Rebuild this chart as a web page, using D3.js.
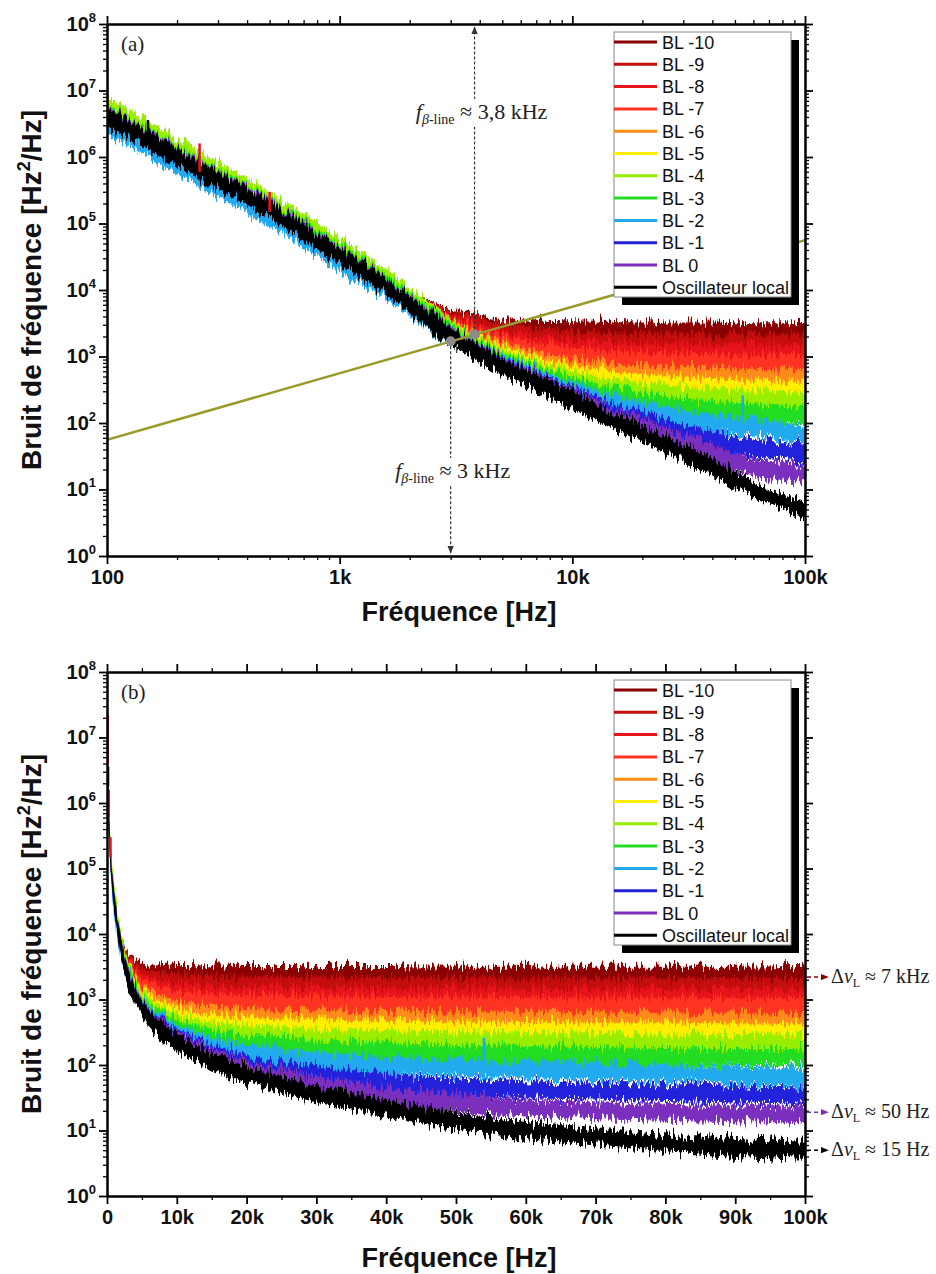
<!DOCTYPE html>
<html>
<head>
<meta charset="utf-8">
<script src="https://cdn.jsdelivr.net/npm/d3@7"></script>
<style>
  body { margin: 0; background: #fff; }
  svg text { font-family: Arial, "Liberation Sans", sans-serif; }
  .tick text { font-weight: bold; font-size: 20px; fill: #111; }
  .serif { font-family: "Liberation Serif", "DejaVu Serif", serif; }
</style>
</head>
<body>
<svg id="chart" width="936" height="1274"></svg>
<script>
const freqs = [100, 150, 200, 300, 500, 700, 1e3, 1.5e3, 2e3, 3e3, 5e3, 7e3, 1e4, 1.5e4, 2e4, 3e4, 4e4, 5e4, 6e4, 7e4, 8e4, 9e4, 1e5];

const seriesNames = ["BL -10", "BL -9", "BL -8", "BL -7", "BL -6", "BL -5", "BL -4", "BL -3", "BL -2", "BL -1", "BL 0", "Oscillateur local"];
const seriesColors = ["#8b0000", "#c40d0d", "#e8141c", "#ff3322", "#ff8c1a", "#ffee00", "#99ee00", "#22dd22", "#22aaee", "#2222dd", "#7b2fbf", "#000000"];

// frequency noise PSD [Hz^2/Hz]
const bl10 = [3.4e6, 1.5e6, 8.5e5, 3.9e5, 1.45e5, 6.8e4, 3e4, 1.35e4, 7e3, 3.6e3, 2.7e3, 2.55e3, 2.5e3, 2.45e3, 2.4e3, 2.4e3, 2.4e3, 2.35e3, 2.35e3, 2.35e3, 2.35e3, 2.35e3, 2.4e3];
const bl9  = [3.6e6, 1.6e6, 9e5, 4.1e5, 1.5e5, 7e4, 3.1e4, 1.35e4, 7e3, 3.4e3, 2.3e3, 2e3, 1.8e3, 1.7e3, 1.65e3, 1.62e3, 1.6e3, 1.6e3, 1.6e3, 1.6e3, 1.58e3, 1.58e3, 1.56e3];
const bl8  = [3.8e6, 1.7e6, 9.5e5, 4.3e5, 1.55e5, 7.3e4, 3.2e4, 1.35e4, 6.8e3, 3e3, 1.8e3, 1.5e3, 1.3e3, 1.2e3, 1.15e3, 1.12e3, 1.1e3, 1.1e3, 1.1e3, 1.1e3, 1.08e3, 1.08e3, 1.06e3];
const bl7  = [4.4e6, 2e6, 1.1e6, 4.9e5, 1.75e5, 8.2e4, 3.5e4, 1.45e4, 7e3, 2.8e3, 1.5e3, 1.2e3, 1e3, 9e2, 8.6e2, 8.3e2, 8.1e2, 8e2, 8e2, 7.9e2, 7.9e2, 7.8e2, 7.8e2];
const bl6  = [4.8e6, 2.2e6, 1.2e6, 5.3e5, 1.9e5, 8.8e4, 3.7e4, 1.5e4, 7e3, 2.6e3, 1.2e3, 9e2, 7e2, 6e2, 5.5e2, 5.2e2, 5e2, 4.9e2, 4.8e2, 4.8e2, 4.7e2, 4.7e2, 4.6e2];
const bl5  = [5.5e6, 2.5e6, 1.35e6, 6e5, 2.1e5, 1e5, 4.2e4, 1.7e4, 7.6e3, 2.6e3, 1.05e3, 7.4e2, 5.5e2, 4.4e2, 4e2, 3.7e2, 3.5e2, 3.4e2, 3.35e2, 3.3e2, 3.3e2, 3.2e2, 3.2e2];
const bl4  = [5.8e6, 2.6e6, 1.4e6, 6.3e5, 2.2e5, 1.05e5, 4.4e4, 1.8e4, 8e3, 2.6e3, 9.5e2, 6.4e2, 4.5e2, 3.4e2, 3e2, 2.65e2, 2.5e2, 2.4e2, 2.35e2, 2.3e2, 2.25e2, 2.2e2, 2.2e2];
const bl3  = [4.5e6, 2e6, 1.1e6, 5e5, 1.8e5, 8.5e4, 3.6e4, 1.5e4, 6.8e3, 2.3e3, 8.5e2, 5.5e2, 3.6e2, 2.6e2, 2.1e2, 1.75e2, 1.6e2, 1.5e2, 1.45e2, 1.4e2, 1.35e2, 1.3e2, 1.3e2];
const bl2  = [3e6, 1.4e6, 7.5e5, 3.4e5, 1.2e5, 5.8e4, 2.5e4, 1.1e4, 5.3e3, 2e3, 7.8e2, 4.8e2, 3e2, 1.9e2, 1.5e2, 1.15e2, 1e2, 9e1, 8.5e1, 8e1, 7.5e1, 7e1, 6.5e1];
const bl1  = [4e6, 1.8e6, 1e6, 4.5e5, 1.6e5, 7.5e4, 3.2e4, 1.35e4, 6.2e3, 2.1e3, 7.5e2, 4.4e2, 2.6e2, 1.5e2, 1.05e2, 7e1, 5.5e1, 4.6e1, 4.2e1, 4e1, 3.8e1, 3.6e1, 3.5e1];
const bl0  = [4.2e6, 1.9e6, 1.05e6, 4.7e5, 1.7e5, 7.8e4, 3.3e4, 1.35e4, 6.2e3, 2.1e3, 7.3e2, 4.2e2, 2.4e2, 1.3e2, 8.5e1, 5e1, 3.4e1, 2.6e1, 2.2e1, 2e1, 1.9e1, 1.8e1, 1.8e1];
const lo   = [4e6, 1.8e6, 1e6, 4.5e5, 1.6e5, 7.5e4, 3.2e4, 1.3e4, 6e3, 2e3, 7e2, 4e2, 2.2e2, 1.1e2, 7e1, 3.6e1, 2.2e1, 1.4e1, 1e1, 8, 6.5, 5.5, 5];

// the spectra are noisy: band drawn between value/spread and value*spread
const noiseSpread = 1.35;

// beta-separation line (end points)
const betaFreq = [100, 1e5];
const betaVal = [56, 5.6e4];

// narrow peaks
const spikeFreq = [100, 150, 250, 500, 54000];
const spikeLow = [4e6, 1.8e6, 6e5, 1.5e5, 6e1];
const spikeHigh = [2.2e7, 3.6e6, 1.6e6, 3e5, 2.6e2];
const spikeSeries = ["BL -8", "Oscillateur local", "BL -8", "BL -8", "BL -2"];

// annotations
const crossFreq = [3000, 3800];
const crossVal = [1.7e3, 2.15e3];
const crossLabels = ["3 kHz", "3,8 kHz"];
const lwLevels = [2200, 19, 5];
const lwLabels = ["7 kHz", "50 Hz", "15 Hz"];
const lwSeries = ["BL -10", "BL 0", "Oscillateur local"];

const xTicksLog = [100, 1e3, 1e4, 1e5];
const xTickLabelsLog = ["100", "1k", "10k", "100k"];
const xTicksLin = [0, 1e4, 2e4, 3e4, 4e4, 5e4, 6e4, 7e4, 8e4, 9e4, 1e5];
const xTickLabelsLin = ["0", "10k", "20k", "30k", "40k", "50k", "60k", "70k", "80k", "90k", "100k"];
const yTicks = [1, 1e1, 1e2, 1e3, 1e4, 1e5, 1e6, 1e7, 1e8];

const allValues = [bl10, bl9, bl8, bl7, bl6, bl5, bl4, bl3, bl2, bl1, bl0, lo];
const series = seriesNames.map((name, i) => ({ name: name, color: seriesColors[i], values: allValues[i] }));
const colorOf = name => seriesColors[seriesNames.indexOf(name)];

const W = 936, H = 1274;
const svg = d3.select("#chart");
const defs = svg.append("defs");

// jagged look of the noisy spectra (vertical displacement only)
const filt = defs.append("filter").attr("id", "jag")
    .attr("filterUnits", "userSpaceOnUse")
    .attr("x", 0).attr("y", 0).attr("width", W).attr("height", H)
    .attr("color-interpolation-filters", "sRGB");
filt.append("feTurbulence").attr("type", "fractalNoise")
    .attr("baseFrequency", "0.45 0.04").attr("numOctaves", 2).attr("seed", 3).attr("result", "noise");
filt.append("feColorMatrix").attr("in", "noise").attr("type", "matrix")
    .attr("values", "0 0 0 0 0.5  0 1 0 0 0  0 0 1 0 0  0 0 0 0 1").attr("result", "dy");
filt.append("feDisplacementMap").attr("in", "SourceGraphic").attr("in2", "dy")
    .attr("scale", 22).attr("xChannelSelector", "R").attr("yChannelSelector", "G");

// arrow heads
function arrowId(color) {
    const id = "arr" + color.replace("#", "");
    if (defs.select("#" + id).empty()) {
        defs.append("marker").attr("id", id)
            .attr("viewBox", "0 0 10 10").attr("refX", 9).attr("refY", 5)
            .attr("markerWidth", 8).attr("markerHeight", 8)
            .attr("markerUnits", "userSpaceOnUse").attr("orient", "auto")
            .append("path").attr("d", "M0,1 L10,5 L0,9 z").attr("fill", color);
    }
    return "url(#" + id + ")";
}

const panels = [
    { id: "a", log: true, left: 107, right: 805, top: 24, bottom: 556, label: "(a)", titleDy: 65 },
    { id: "b", log: false, left: 107, right: 805, top: 672, bottom: 1196, label: "(b)", titleDy: 71 }
];

panels.forEach(drawPanel);

function drawPanel(p) {
    const x = p.log
        ? d3.scaleLog().domain([100, 1e5]).range([p.left, p.right])
        : d3.scaleLinear().domain([0, 1e5]).range([p.left, p.right]);
    const y = d3.scaleLog().domain([1, 1e8]).range([p.bottom, p.top]);

    defs.append("clipPath").attr("id", "clip-" + p.id).append("rect")
        .attr("x", p.left).attr("y", p.top)
        .attr("width", p.right - p.left).attr("height", p.bottom - p.top);

    const plot = svg.append("g").attr("clip-path", "url(#clip-" + p.id + ")");

    // noisy spectra as bands
    const band = d3.area()
        .x(d => x(d[0]))
        .y0(d => y(d[1] / noiseSpread))
        .y1(d => y(d[1] * noiseSpread));
    const bands = plot.append("g").attr("filter", "url(#jag)");
    series.forEach(s => {
        bands.append("path")
            .datum(freqs.map((f, i) => [f, s.values[i]]))
            .attr("d", band)
            .attr("fill", s.color);
    });

    // peaks
    spikeFreq.forEach((f, i) => {
        plot.append("line")
            .attr("x1", x(f)).attr("x2", x(f))
            .attr("y1", y(spikeLow[i])).attr("y2", y(spikeHigh[i]))
            .attr("stroke", colorOf(spikeSeries[i])).attr("stroke-width", 2.5);
    });

    if (p.id === "a") {
        plot.append("path")
            .datum(betaFreq.map((f, i) => [f, betaVal[i]]))
            .attr("d", d3.line().x(d => x(d[0])).y(d => y(d[1])))
            .attr("fill", "none").attr("stroke", "#9a9a2c").attr("stroke-width", 2.5);
    }

    // axes
    const decades = d3.range(0, 8);
    const yMinor = [];
    decades.forEach(k => { for (let m = 2; m < 10; m++) yMinor.push(m * Math.pow(10, k)); });
    let xMajor, xMinor, xLabels;
    if (p.log) {
        xMajor = xTicksLog; xLabels = xTickLabelsLog; xMinor = [];
        [2, 3, 4].forEach(k => { for (let m = 2; m < 10; m++) xMinor.push(m * Math.pow(10, k)); });
    } else {
        xMajor = xTicksLin; xLabels = xTickLabelsLin;
        xMinor = xTicksLin.slice(0, -1).map(v => v + 5000);
    }

    function axis(gen, scale, vals, size, fmt, tx, ty) {
        const g = svg.append("g").attr("transform", "translate(" + tx + "," + ty + ")")
            .call(gen(scale).tickValues(vals).tickSize(size).tickSizeOuter(0).tickFormat(fmt).tickPadding(size === 8 ? 6 : 3));
        g.select(".domain").attr("stroke-width", 2);
        g.selectAll(".tick line").attr("stroke-width", size === 8 ? 1.8 : 1.3);
        return g;
    }
    const none = () => "";
    // bottom / top
    const gx = axis(d3.axisBottom, x, xMajor, 8, (d, i) => xLabels[i], 0, p.bottom);
    gx.selectAll(".tick text").attr("font-size", null);
    axis(d3.axisBottom, x, xMinor, 4, none, 0, p.bottom);
    axis(d3.axisTop, x, xMajor, 8, none, 0, p.top);
    axis(d3.axisTop, x, xMinor, 4, none, 0, p.top);
    // left / right
    const gy = axis(d3.axisLeft, y, yTicks, 8, none, p.left, 0).call(g => g.selectAll(".tick text").attr("x", -11));
    gy.selectAll(".tick text").each(function (d) {
        const t = d3.select(this);
        t.append("tspan").text("10");
        t.append("tspan").attr("dy", -9).attr("font-size", 13).text(Math.round(Math.log10(d)));
    });
    axis(d3.axisLeft, y, yMinor, 4, none, p.left, 0);
    axis(d3.axisRight, y, yTicks, 8, none, p.right, 0);
    axis(d3.axisRight, y, yMinor, 4, none, p.right, 0);

    // titles
    svg.append("text")
        .attr("x", (p.left + p.right) / 2 + 3).attr("y", p.bottom + p.titleDy)
        .attr("text-anchor", "middle").attr("font-weight", "bold").attr("font-size", 27)
        .attr("fill", "#111").text("Fréquence [Hz]");
    const yt = svg.append("text")
        .attr("transform", "translate(41," + ((p.top + p.bottom) / 2) + ") rotate(-90)")
        .attr("text-anchor", "middle").attr("font-weight", "bold").attr("font-size", 28)
        .attr("fill", "#111");
    yt.append("tspan").text("Bruit de fréquence [Hz");
    yt.append("tspan").attr("dy", -11).attr("font-size", 18).text("2");
    yt.append("tspan").attr("dy", 11).text("/Hz]");

    svg.append("text").attr("class", "serif")
        .attr("x", p.left + 14).attr("y", p.top + 27)
        .attr("font-size", 21).attr("fill", "#222").text(p.label);

    // annotations
    if (p.id === "a") {
        crossFreq.forEach((f, i) => {
            const up = i === 1;
            svg.append("line")
                .attr("x1", x(f)).attr("x2", x(f))
                .attr("y1", y(crossVal[i])).attr("y2", up ? p.top + 3 : p.bottom - 3)
                .attr("stroke", "#333").attr("stroke-width", 1.2)
                .attr("stroke-dasharray", "3,2")
                .attr("marker-end", arrowId("#333333"));
            const t = svg.append("text").attr("class", "serif")
                .attr("x", x(f) + (up ? 7 : 2)).attr("y", up ? 119 : 478)
                .attr("text-anchor", "middle").attr("font-size", 22).attr("fill", "#222");
            t.append("tspan").attr("font-style", "italic").text("f");
            t.append("tspan").attr("dy", 5).attr("font-size", 14).attr("font-style", "italic").text("β");
            t.append("tspan").attr("font-size", 14).text("-line");
            t.append("tspan").attr("dy", -5).text(" ≈ " + crossLabels[i]);
            const bb = t.node().getBBox();
            svg.insert("rect", function () { return t.node(); })
                .attr("x", bb.x - 2).attr("y", bb.y).attr("width", bb.width + 4).attr("height", bb.height)
                .attr("fill", "#fff");
        });
        crossFreq.forEach((f, i) => {
            svg.append("circle").attr("cx", x(f)).attr("cy", y(crossVal[i])).attr("r", 5).attr("fill", "#8c8c8c");
        });
    } else {
        lwLevels.forEach((v, i) => {
            const c = colorOf(lwSeries[i]);
            svg.append("line")
                .attr("x1", 765).attr("x2", 828)
                .attr("y1", y(v)).attr("y2", y(v))
                .attr("stroke", c).attr("stroke-width", 1.4).attr("stroke-dasharray", "4,3")
                .attr("marker-end", arrowId(c));
            const t = svg.append("text").attr("class", "serif")
                .attr("x", 831).attr("y", y(v) + 6).attr("font-size", 20).attr("fill", "#222");
            t.append("tspan").text("Δ");
            t.append("tspan").attr("font-style", "italic").text("ν");
            t.append("tspan").attr("dy", 4).attr("font-size", 12).text("L");
            t.append("tspan").attr("dy", -4).text(" ≈ " + lwLabels[i]);
        });
    }

    // legend with drop shadow
    const lx = 614, ly = p.top + 8, lw = 177, lh = 265;
    svg.append("rect").attr("x", lx + 8).attr("y", ly + 8).attr("width", lw).attr("height", lh).attr("fill", "#000");
    svg.append("rect").attr("x", lx).attr("y", ly).attr("width", lw).attr("height", lh)
        .attr("fill", "#fff").attr("stroke", "#888").attr("stroke-width", 1);
    series.forEach((s, i) => {
        const yy = ly + 10 + i * 22.3;
        svg.append("line").attr("x1", lx).attr("x2", lx + 43).attr("y1", yy).attr("y2", yy)
            .attr("stroke", s.color).attr("stroke-width", 3);
        svg.append("text").attr("x", lx + 48).attr("y", yy + 6.5)
            .attr("font-size", 18).attr("fill", "#111").text(s.name);
    });
}
</script>
</body>
</html>
